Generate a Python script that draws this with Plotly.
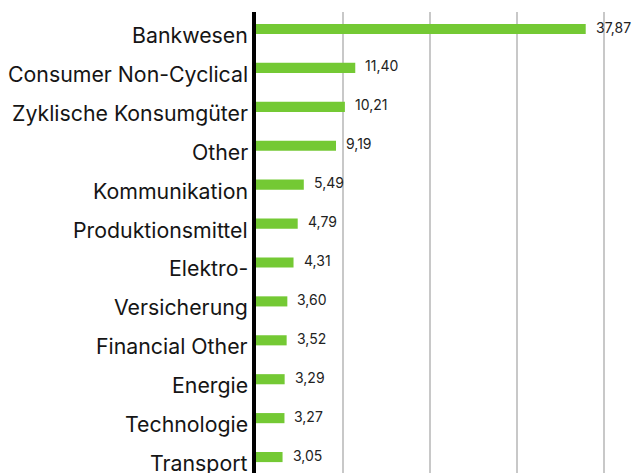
import plotly.graph_objects as go

categories = ["Bankwesen", "Consumer Non-Cyclical", "Zyklische Konsumgüter", "Other",
              "Kommunikation", "Produktionsmittel", "Elektro-", "Versicherung",
              "Financial Other", "Energie", "Technologie", "Transport"]
values = [37.87, 11.40, 10.21, 9.19, 5.49, 4.79, 4.31, 3.60, 3.52, 3.29, 3.27, 3.05]
value_labels = [f"{v:.2f}".replace(".", ",") for v in values]

FONT = "Inter, Roboto, sans-serif"

fig = go.Figure()
fig.add_trace(go.Bar(
    x=values, y=categories, orientation="h",
    marker=dict(color="#74C934", line=dict(width=0)),
    width=0.26, hoverinfo="skip",
))

for c, v, t in zip(categories, values, value_labels):
    fig.add_annotation(x=v, y=c, text=t, showarrow=False, xanchor="left",
                       xshift=8, yshift=2, font=dict(size=14, color="#222222", family=FONT))

# category labels (drawn slightly below bar centre as in the reference)
for c in categories:
    fig.add_annotation(x=0, y=c, text=c, showarrow=False, xanchor="right",
                       xshift=-6, yshift=-6, font=dict(size=21.3, color="#151515", family=FONT))

fig.update_layout(
    width=633, height=473,
    margin=dict(l=256, r=0, t=12, b=0),
    plot_bgcolor="white", paper_bgcolor="white",
    showlegend=False,
    font=dict(family=FONT, color="#111111"),
    xaxis=dict(range=[0, 43.3], dtick=10, tick0=0, showgrid=True,
               gridcolor="#C8C8C8", gridwidth=2, showticklabels=False,
               zeroline=False, showline=False, ticks=""),
    yaxis=dict(type="category", range=[11.41, -0.437], showgrid=False,
               showline=True, linecolor="black", linewidth=4,
               ticks="", showticklabels=False),
)

fig.write_html("out.html", config={"displayModeBar": False},
               post_script="document.body.style.margin='0';document.body.style.overflow='hidden';")
